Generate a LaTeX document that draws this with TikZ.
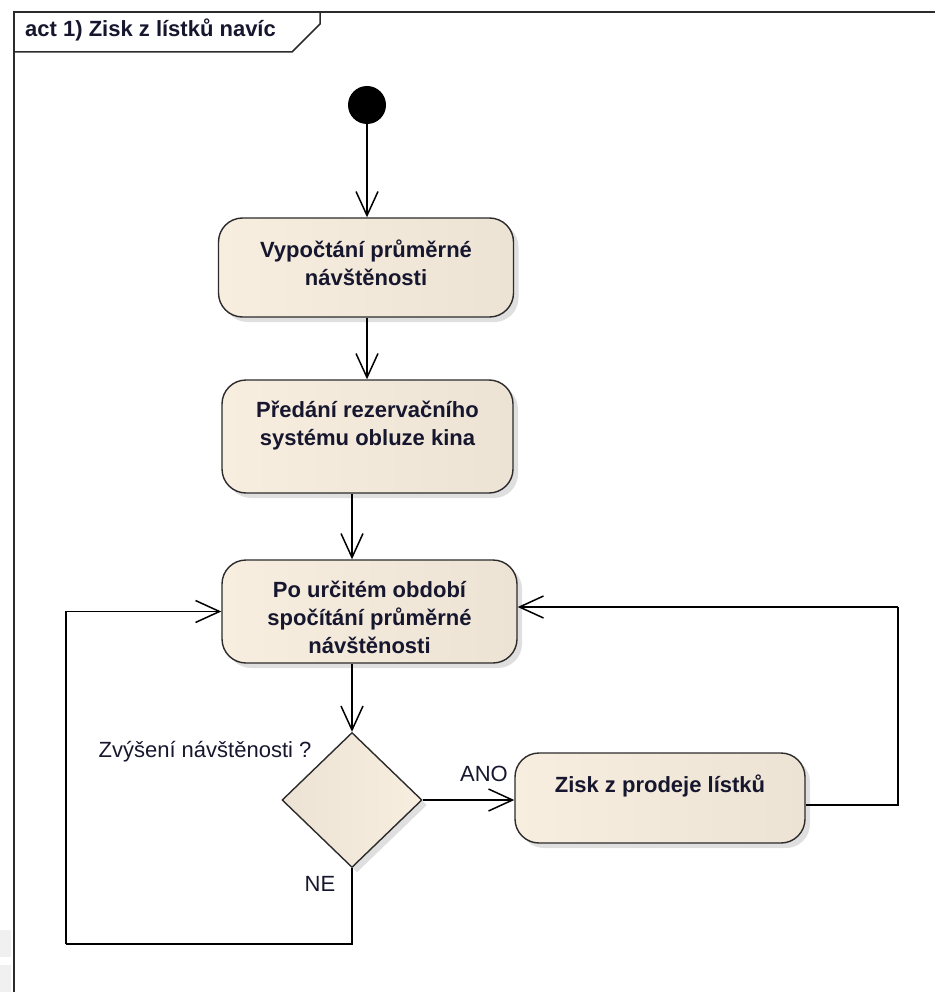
\documentclass[tikz,border=0pt]{standalone}
\usepackage{fontspec}
\setmainfont{Liberation Sans}
\usetikzlibrary{arrows.meta,shapes.geometric,shadows}

\definecolor{ActL}{HTML}{F8EEDF}
\definecolor{ActM}{HTML}{FBF3E7}
\definecolor{ActR}{HTML}{ECE3D5}
\definecolor{Edge}{HTML}{2B2B2B}
\definecolor{Txt}{HTML}{16162E}

\tikzset{
  shade/.style={drop shadow={shadow xshift=5pt, shadow yshift=-5pt, fill=black!25}},
  action/.style={rectangle, rounded corners=24pt, draw=Edge, line width=1.4pt,
    left color=ActL, middle color=ActM, right color=ActR, shade, inner sep=0pt},
  boxtext/.style={anchor=north, yshift=-22pt, align=center, inner sep=0pt,
    font=\bfseries\fontsize{22}{28}\selectfont, text=Txt},
  choice/.style={diamond, draw=Edge, line width=1.4pt, inner sep=0pt,
    left color=ActR, middle color=ActM, right color=ActL, shade},
  note/.style={font=\fontsize{22}{26}\selectfont, text=Txt, inner sep=0pt},
  flow/.style={line width=1.5pt, -{Straight Barb[length=24pt,width=22pt]}},
  wire/.style={line width=1.5pt}
}

\begin{document}
\begin{tikzpicture}[x=1pt, y=-1pt]

 \useasboundingbox (0,0) rectangle (935,992);

  %%%%%%%%%% Frame %%%%%%%%%%
 \fill [black!6] (0,930) rectangle (11,957) ;
 \fill [black!6] (0,965) rectangle (11,992) ;
 \draw [line width=1.5pt, color=Edge] (14,992) -- (14,12) -- (935,12) ;
 \draw [line width=1.5pt, color=Edge] (14,52) -- (292,52) -- (320,24) -- (320,12) ;
 \node [anchor=base west, inner sep=0pt, text=Txt, font=\bfseries\fontsize{22}{26}\selectfont] (title) at (25,37) {act 1) Zisk z lístků navíc};

  %%%%%%%%%% Nodes %%%%%%%%%%
 \node [circle, fill=black, minimum size=38pt, inner sep=0pt] (start) at (367,105) {};

 \node [action, minimum width=295pt, minimum height=99pt,
   label={[boxtext]north:{Vypočtání průměrné\\návštěnosti}}] (act1) at (366,267.5) {};

 \node [action, minimum width=291pt, minimum height=113pt,
   label={[boxtext]north:{Předání rezervačního\\systému obluze kina}}] (act2) at (367.5,436.5) {};

 \node [action, minimum width=295pt, minimum height=103pt,
   label={[boxtext]north:{Po určitém období\\spočítání průměrné\\návštěnosti}}] (act3) at (369.5,611.5) {};

 \node [choice, minimum width=140pt, minimum height=135pt] (dec) at (352,800) {};

 \node [action, minimum width=290pt, minimum height=90pt,
   label={[boxtext]north:{Zisk z prodeje lístků}}] (act4) at (660,798) {};

  %%%%%%%%%% Guards %%%%%%%%%%
 \node [note, anchor=base] (ask) at (205,757) {Zvýšení návštěnosti ?};
 \node [note, anchor=base] (yes) at (484,781) {ANO};
 \node [note, anchor=base] (no) at (320,891) {NE};

 \coordinate (loopR) at (898,607);
 \coordinate (loopB) at (66,944);

  %%%%%%%%%% Flows %%%%%%%%%%
 \draw [flow] (start) -- (start |- act1.north) ;
 \draw [flow] (act1.south -| start) -- (act2.north -| start) ;
 \draw [flow] (act2.south -| dec) -- (act3.north -| dec) ;
 \draw [flow] (act3.south -| dec) -- (dec.north) ;
 \draw [flow] (dec.east) -- (act4.west |- dec.east) ;
 \draw [wire] ([yshift=-7pt]act4.east) -| (loopR) ;
 \draw [flow] (loopR) -- (loopR -| act3.east) ;
 \draw [wire] (dec.south) |- (loopB) ;
 \draw [flow] (loopB) |- (act3.west) ;

\end{tikzpicture}
\end{document}
